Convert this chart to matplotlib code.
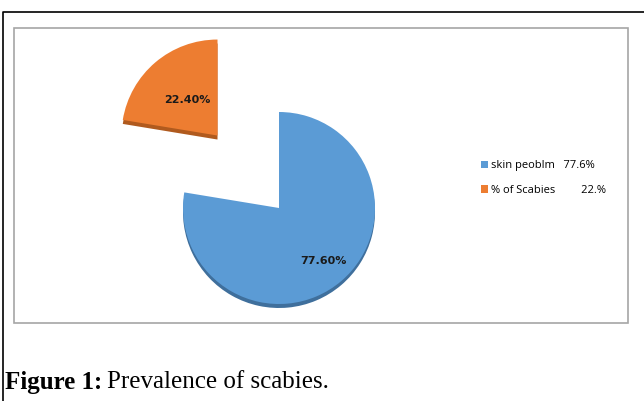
import numpy as np
import matplotlib
matplotlib.use("Agg")
import matplotlib.pyplot as plt
from matplotlib.patches import Rectangle, Patch
from matplotlib.lines import Line2D

labels = ["skin peoblm", "% of Scabies"]
values = [77.6, 22.4]
legend_values = ["77.6%", "22.%"]
colors = ["#5B9BD5", "#ED7D31"]
side_colors = ["#3F6F9C", "#B05A1E"]
explode_frac = [0, 0.99]

W, H = 644, 401
fig = plt.figure(figsize=(W / 100, H / 100), dpi=100)
ax = fig.add_axes([0, 0, 1, 1])

cx, cy, r = 279, 401 - 208, 96
explode = [e * r for e in explode_frac]  # pie takes explode in data units

# darker copy underneath for the 3D rim
ax.pie(values, colors=side_colors, startangle=90, counterclock=False,
       explode=explode, center=(cx, cy - 4), radius=r)
wedges, _, autotexts = ax.pie(values, colors=colors, startangle=90, counterclock=False,
                              explode=explode, center=(cx, cy), radius=r,
                              autopct="%.2f%%", pctdistance=0.7,
                              textprops=dict(fontsize=8, fontweight="bold", color="#1a1a1a",
                                             family="DejaVu Sans"))

# per-slice label distance
dist = [0.72, 0.48]
for w, t, d in zip(wedges, autotexts, dist):
    ang = np.deg2rad((w.theta1 + w.theta2) / 2)
    x0, y0 = w.center
    t.set_position((x0 + d * r * np.cos(ang), y0 + d * r * np.sin(ang)))

ax.set_xlim(0, W)
ax.set_ylim(0, H)
ax.set_aspect("auto")
ax.axis("off")

# inner chart frame
ax.add_patch(Rectangle((14, H - 323), 614, 295, fill=False, edgecolor="#a6a6a6", lw=1.2))
# outer page border
ax.add_line(Line2D([3, 3, W], [0, H - 12, H - 12], color="black", lw=1.2))

handles = [Patch(facecolor=c, edgecolor="none") for c in colors]
leg_labels = [f"{labels[0]}   {legend_values[0]}", f"{labels[1]}         {legend_values[1]}"]
fig.legend(handles, leg_labels, loc="upper left", bbox_to_anchor=(471 / W, 1 - 150 / H),
           frameon=False, handlelength=0.6, handleheight=0.6, handletextpad=0.3,
           labelspacing=1.25, prop=dict(family="Open Sans", size=8))

t1 = fig.text(5 / W, 1 - 382 / H, "Figure 1:", fontsize=18, fontweight="bold",
              family="Liberation Serif", va="center", ha="left")
fig.canvas.draw()
bb = t1.get_window_extent()
fig.text((bb.x1 + 5) / W, 1 - 382 / H, "Prevalence of scabies.", fontsize=18,
         family="Liberation Serif", va="center", ha="left")

fig.savefig("out.png", dpi=100)
